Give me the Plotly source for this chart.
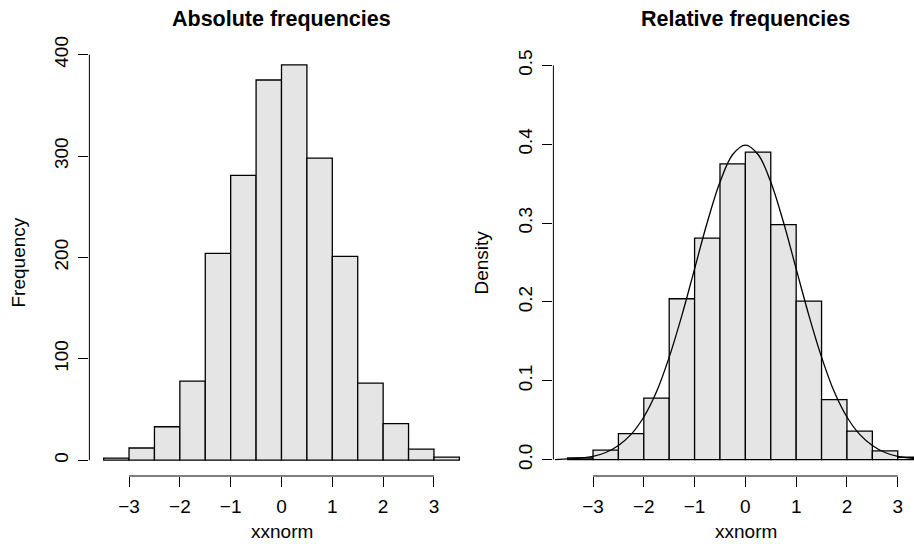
import plotly.graph_objects as go

# ---- data ----
breaks = [-3.5, -3.0, -2.5, -2.0, -1.5, -1.0, -0.5, 0.0, 0.5, 1.0, 1.5, 2.0, 2.5, 3.0, 3.5]
counts = [2, 12, 33, 78, 204, 281, 375, 390, 298, 201, 76, 36, 11, 3]

# density curve
curve_x = [-3.75, -3.5, -3.25, -3.0, -2.75, -2.5, -2.25, -2.0, -1.75, -1.5, -1.25, -1.0,
           -0.75, -0.5, -0.25, 0.0, 0.25, 0.5, 0.75, 1.0, 1.25, 1.5, 1.75, 2.0, 2.25,
           2.5, 2.75, 3.0, 3.25, 3.5, 3.75]
curve_y = [0.000, 0.001, 0.002, 0.004, 0.009, 0.018, 0.032, 0.054, 0.086, 0.130, 0.183, 0.242,
           0.301, 0.352, 0.387, 0.399, 0.387, 0.352, 0.301, 0.242, 0.183, 0.130, 0.086, 0.054, 0.032,
           0.018, 0.009, 0.004, 0.002, 0.001, 0.000]

x_ticks = [-3, -2, -1, 0, 1, 2, 3]
x_tick_text = ["\u22123", "\u22122", "\u22121", "0", "1", "2", "3"]
freq_ticks = [0, 100, 200, 300, 400]
dens_ticks = [0.0, 0.1, 0.2, 0.3, 0.4, 0.5]

titles = ["Absolute frequencies", "Relative frequencies"]
xlabel = "xxnorm"
ylabels = ["Frequency", "Density"]

# ---- derived ----
centers = [(breaks[i] + breaks[i + 1]) / 2 for i in range(len(counts))]
widths = [breaks[i + 1] - breaks[i] for i in range(len(counts))]
total = sum(counts)
density = [c / (total * w) for c, w in zip(counts, widths)]

W, H = 914, 544
FONT = "Liberation Sans, Arial, Helvetica, sans-serif"
FILL = "#E5E5E5"

fig = go.Figure()
fig.add_trace(go.Bar(x=centers, y=counts, width=widths, marker=dict(color=FILL, line=dict(color="black", width=1.3)),
                     xaxis="x", yaxis="y", showlegend=False, hoverinfo="skip"))
fig.add_trace(go.Bar(x=centers, y=density, width=widths, marker=dict(color=FILL, line=dict(color="black", width=1.3)),
                     xaxis="x2", yaxis="y2", showlegend=False, hoverinfo="skip"))
fig.add_trace(go.Scatter(x=curve_x, y=curve_y, mode="lines", line=dict(color="black", width=1.3, shape="spline"),
                         xaxis="x2", yaxis="y2", showlegend=False, hoverinfo="skip"))

def px_x(p):
    return p / W

def px_y(p):
    return 1 - p / H

top_px, bot_px = 49, 476
ydom = [px_y(bot_px), px_y(top_px)]

tickfont = dict(family=FONT, size=19, color="black")
common_axis = dict(showgrid=False, zeroline=False, showline=False, ticks="outside", ticklen=10,
                   tickwidth=1, tickcolor="black", tickfont=tickfont, automargin=False,
                   ticklabelstandoff=3, fixedrange=True)

fig.update_layout(
    template="none",
    width=W, height=H,
    margin=dict(l=0, r=0, t=0, b=0, pad=0, autoexpand=False),
    paper_bgcolor="white", plot_bgcolor="white",
    bargap=0,
    hovermode=False,
    xaxis=dict(domain=[px_x(89.4), px_x(473.6)], range=[-3.78, 3.78], anchor="y",
               tickvals=x_ticks, ticktext=x_tick_text, **common_axis),
    yaxis=dict(domain=ydom, range=[-15.6, 405.6], anchor="x",
               tickvals=freq_ticks, tickangle=-90, **common_axis),
    xaxis2=dict(domain=[px_x(553.4), 1.0], range=[-3.78, 3.32], anchor="y2",
                tickvals=x_ticks, ticktext=x_tick_text, **common_axis),
    yaxis2=dict(domain=ydom, range=[-0.0208, 0.5208], anchor="x2",
                tickvals=dens_ticks, tickformat=".1f", tickangle=-90, **common_axis),
)

# axis lines spanning only tick range (R style)
for xa, ya, yt in [("x", "y", freq_ticks), ("x2", "y2", dens_ticks)]:
    fig.add_shape(type="line", xref=f"{xa} domain", yref=ya, x0=0, x1=0, y0=yt[0], y1=yt[-1],
                  line=dict(color="black", width=1))
    fig.add_shape(type="line", xref=xa, yref=f"{ya} domain", x0=x_ticks[0], x1=x_ticks[-1], y0=0, y1=0,
                  line=dict(color="black", width=1))

# titles and axis labels
title_font = dict(family=FONT, size=21.5, color="black")
lab_font = dict(family=FONT, size=19, color="black")
for cx, t in zip([281.5, 745.5], titles):
    fig.add_annotation(text=f"<b>{t}</b>", x=px_x(cx), y=px_y(18.5), xref="paper", yref="paper",
                       showarrow=False, font=title_font, xanchor="center", yanchor="middle")
for cx in [281.5, 745.5]:
    fig.add_annotation(text=xlabel, x=px_x(cx), y=px_y(531), xref="paper", yref="paper",
                       showarrow=False, font=lab_font, xanchor="center", yanchor="middle")
for cx, t in zip([18, 481], ylabels):
    fig.add_annotation(text=t, x=px_x(cx), y=px_y(262.5), xref="paper", yref="paper", textangle=-90,
                       showarrow=False, font=lab_font, xanchor="center", yanchor="middle")

# remove the default page margin so the figure fills the window exactly
fig.write_html("out.html", config={"displayModeBar": False, "staticPlot": True},
               post_script="document.body.style.margin='0';document.body.style.overflow='hidden';")
